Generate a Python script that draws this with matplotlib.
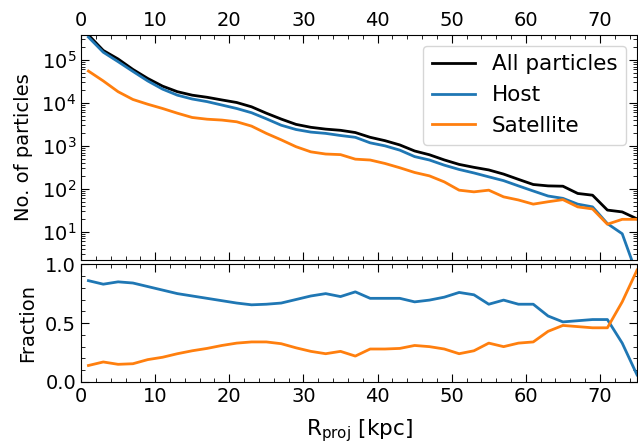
import numpy as np
import matplotlib.pyplot as plt
from matplotlib.ticker import MultipleLocator

# --- data ---
r_proj = np.arange(1, 76, 2)  # bin centres [kpc]

n_all = [380000, 166000, 105000, 60000, 37000, 24500, 18200, 15100, 13500, 11700,
         10200, 8100, 5750, 4200, 3160, 2700, 2450, 2300, 2040, 1580,
         1320, 1050, 760, 620, 470, 370, 316, 275, 220, 166,
         126, 117, 115, 78, 71, 32, 29, 20]
n_host = [339000, 151000, 91000, 54000, 32400, 20900, 15100, 12300, 10700, 8900,
          7400, 5900, 4260, 3020, 2400, 2090, 1950, 1740, 1580, 1175,
          1000, 794, 562, 468, 355, 282, 234, 190, 155, 117,
          89, 68, 60, 44, 38, 15.5, 9, 1]
n_sat = [55000, 32400, 18200, 12000, 9300, 7400, 5750, 4570, 4170, 3980,
         3630, 2880, 1950, 1380, 955, 725, 645, 625, 490, 468,
         389, 309, 240, 200, 145, 93, 85, 93, 65, 55,
         44, 50, 56, 38, 34, 15, 19.5, 19.5]

frac_host = [0.86, 0.83, 0.85, 0.84, 0.81, 0.78, 0.75, 0.73, 0.71, 0.69,
             0.67, 0.655, 0.66, 0.67, 0.70, 0.73, 0.75, 0.725, 0.765, 0.71,
             0.71, 0.71, 0.68, 0.695, 0.72, 0.76, 0.74, 0.66, 0.695, 0.66,
             0.66, 0.56, 0.51, 0.52, 0.53, 0.53, 0.33, 0.06]
frac_sat = [0.14, 0.17, 0.15, 0.155, 0.19, 0.21, 0.24, 0.265, 0.285, 0.31,
            0.33, 0.34, 0.34, 0.325, 0.29, 0.26, 0.24, 0.26, 0.22, 0.28,
            0.28, 0.285, 0.31, 0.30, 0.28, 0.24, 0.265, 0.33, 0.30, 0.33,
            0.34, 0.43, 0.48, 0.47, 0.46, 0.46, 0.68, 0.95]

plt.rcParams['font.size'] = 14

fig = plt.figure(figsize=(6.38, 4.43), dpi=100)
ax1 = fig.add_axes([0.127, 0.413, 0.8715, 0.508])
ax2 = fig.add_axes([0.127, 0.1377, 0.8715, 0.266])

# --- top panel: counts ---
ax1.plot(r_proj, n_all, color='k', lw=2, label='All particles')
ax1.plot(r_proj, n_host, color='#1f77b4', lw=2, label='Host')
ax1.plot(r_proj, n_sat, color='#ff7f0e', lw=2, label='Satellite')
ax1.set_yscale('log')
ax1.set_xlim(0, 75)
ax1.set_ylim(2.2, 3.8e5)
ax1.set_ylabel('No. of particles', labelpad=6)
ax1.legend(loc='upper right', fontsize=15.5, handlelength=2.0)
ax1.tick_params(labeltop=True, labelbottom=False)

# --- bottom panel: fractions ---
ax2.plot(r_proj, frac_host, color='#1f77b4', lw=2)
ax2.plot(r_proj, frac_sat, color='#ff7f0e', lw=2)
ax2.set_xlim(0, 75)
ax2.set_ylim(0, 1)
ax2.set_ylabel('Fraction', labelpad=6)
ax2.set_xlabel(r'$\mathrm{R_{proj}}$ [kpc]', fontsize=15.5, labelpad=8)
ax2.yaxis.set_major_locator(MultipleLocator(0.5))
ax2.yaxis.set_minor_locator(MultipleLocator(0.1))

for ax in (ax1, ax2):
    ax.xaxis.set_major_locator(MultipleLocator(10))
    ax.xaxis.set_minor_locator(MultipleLocator(2))
    ax.tick_params(which='both', direction='in', top=True, right=True)
    ax.tick_params(which='major', length=6)
    ax.tick_params(which='minor', length=3)

fig.align_ylabels([ax1, ax2])
fig.savefig('out.png', dpi=100)
